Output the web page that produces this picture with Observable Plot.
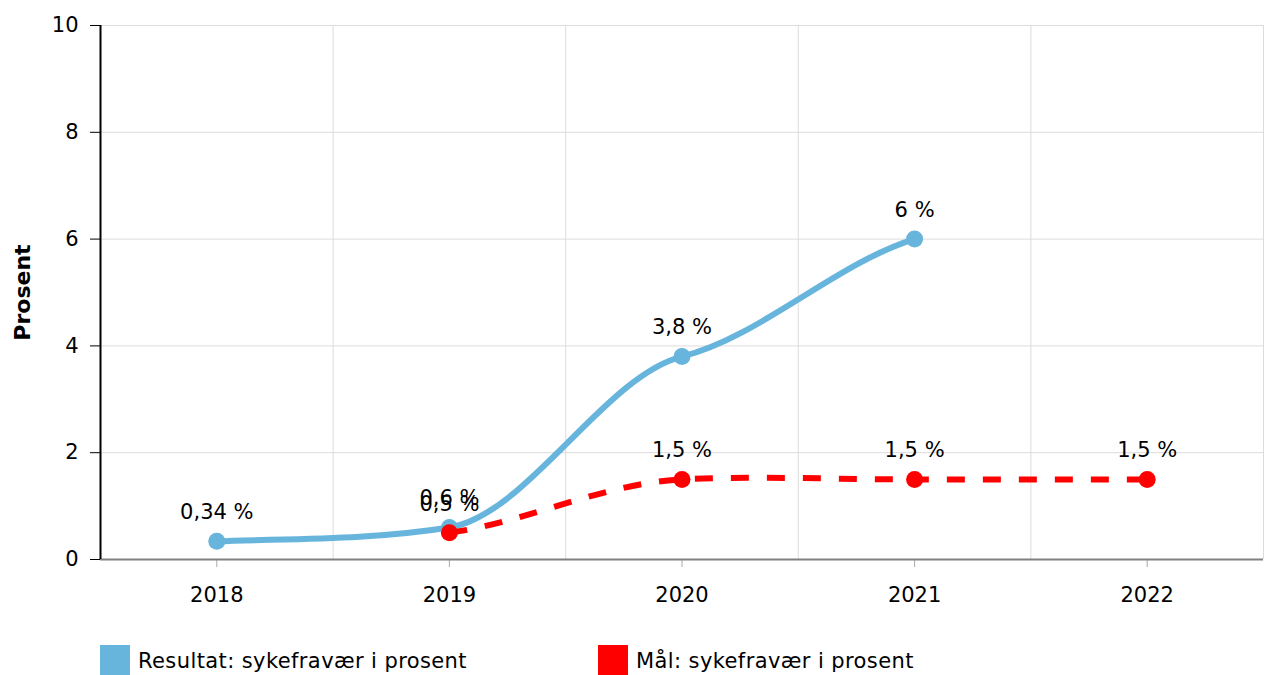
<!DOCTYPE html>
<html>
<head>
<meta charset="utf-8">
<script src="https://cdn.jsdelivr.net/npm/d3@7"></script>
<script src="https://cdn.jsdelivr.net/npm/@observablehq/plot@0.6"></script>
<style>
  html, body { margin: 0; padding: 0; background: #fff; }
  #wrap { position: relative; width: 1265px; height: 675px; overflow: hidden; font-family: "DejaVu Sans", Verdana, sans-serif; }
  #legend { position: absolute; left: 0; top: 645px; width: 1265px; height: 30px; }
  .item { position: absolute; top: 0; height: 32px; display: flex; align-items: center; font-size: 21px; letter-spacing: 0.4px; color: #000; white-space: nowrap; }
  .swatch { width: 30px; height: 32px; margin-right: 8px; }
  g[aria-label="x-axis"] .tick line, g[aria-label="x-axis tick"] { stroke: #aaaaaa; }
  g[aria-label="x-axis"] .domain { display: none; }
</style>
</head>
<body>
<div id="wrap"><div id="chart"></div><div id="legend"></div></div>
<script>
const years = [2018, 2019, 2020, 2021, 2022];
const yTicks = [0, 2, 4, 6, 8, 10];
const resultatYears = [2018, 2019, 2020, 2021];
const resultatValues = [0.34, 0.6, 3.8, 6];
const malYears = [2019, 2020, 2021, 2022];
const malValues = [0.5, 1.5, 1.5, 1.5];
const seriesNames = ["Resultat: sykefravær i prosent", "Mål: sykefravær i prosent"];
const seriesColors = ["#67b5dc", "#ff0000"];
const yLabel = "Prosent";

const fmt = v => String(v).replace(".", ",") + " %";
const resultat = resultatYears.map((y, i) => ({year: y, value: resultatValues[i]}));
const mal = malYears.map((y, i) => ({year: y, value: malValues[i]}));
const bounds = years.map(y => y + 0.5);

// Soft spline (x-parameterised cubic Hermite with reduced tangents)
function softSpline(context) {
  let pts = [];
  const kIn = 0.4, kEnd = 0.6;
  return {
    areaStart() {}, areaEnd() {},
    lineStart() { pts = []; },
    point(x, y) { pts.push([+x, +y]); },
    lineEnd() {
      const n = pts.length;
      if (!n) return;
      context.moveTo(pts[0][0], pts[0][1]);
      if (n === 1) return;
      const m = pts.map((p, i) => {
        const a = pts[Math.max(0, i - 1)], b = pts[Math.min(n - 1, i + 1)];
        const k = (i === 0 || i === n - 1) ? kEnd : kIn;
        return k * (b[1] - a[1]) / (b[0] - a[0]);
      });
      for (let i = 0; i < n - 1; i++) {
        const [x0, y0] = pts[i], [x1, y1] = pts[i + 1], h = (x1 - x0) / 3;
        context.bezierCurveTo(x0 + h, y0 + m[i] * h, x1 - h, y1 - m[i + 1] * h, x1, y1);
      }
    }
  };
}

const chart = Plot.plot({
  width: 1265,
  height: 630,
  marginLeft: 100,
  marginRight: 2,
  marginTop: 25,
  marginBottom: 71,
  style: {fontFamily: "'DejaVu Sans', Verdana, sans-serif", fontSize: "21px", color: "#000", background: "#fff", overflow: "visible"},
  x: {domain: [years[0] - 0.5, years[years.length - 1] + 0.5], ticks: years, tickFormat: d => String(d), tickSize: 8, tickPadding: 20, label: null},
  y: {domain: [0, 10], ticks: yTicks, tickSize: 10, tickPadding: 12, label: null, tickFormat: d => String(d)},
  marks: [
    Plot.ruleY(yTicks, {stroke: "#dcdcdc", strokeWidth: 1}),
    Plot.ruleX(bounds, {stroke: "#dcdcdc", strokeWidth: 1}),
    Plot.ruleY([0], {stroke: "#808080", strokeWidth: 2}),
    Plot.ruleX([years[0] - 0.5], {stroke: "#000", strokeWidth: 2}),
    Plot.line(resultat, {x: "year", y: "value", stroke: seriesColors[0], strokeWidth: 6, curve: softSpline}),
    Plot.dot(resultat, {x: "year", y: "value", fill: seriesColors[0], r: 8.5}),
    Plot.line(mal, {x: "year", y: "value", stroke: seriesColors[1], strokeWidth: 6, strokeDasharray: "18,18", strokeLinecap: "butt", curve: softSpline}),
    Plot.dot(mal, {x: "year", y: "value", fill: seriesColors[1], r: 8.5}),
    Plot.text(resultat, {x: "year", y: "value", text: d => fmt(d.value), dy: -29, fill: "#000", fontSize: 21, lineAnchor: "middle"}),
    Plot.text(mal, {x: "year", y: "value", text: d => fmt(d.value), dy: -29, fill: "#000", fontSize: 21, lineAnchor: "middle"}),
    Plot.text([yLabel], {frameAnchor: "left", rotate: -90, dx: -78, textAnchor: "middle", lineAnchor: "middle", fontWeight: "bold", fontSize: 22, fill: "#000"})
  ]
});
document.getElementById("chart").appendChild(chart);

const legend = document.getElementById("legend");
const lefts = [100, 598];
seriesNames.forEach((name, i) => {
  const item = document.createElement("div");
  item.className = "item";
  item.style.left = lefts[i] + "px";
  const sw = document.createElement("div");
  sw.className = "swatch";
  sw.style.background = seriesColors[i];
  const t = document.createElement("span");
  t.textContent = name;
  item.appendChild(sw);
  item.appendChild(t);
  legend.appendChild(item);
});
</script>
</body>
</html>
